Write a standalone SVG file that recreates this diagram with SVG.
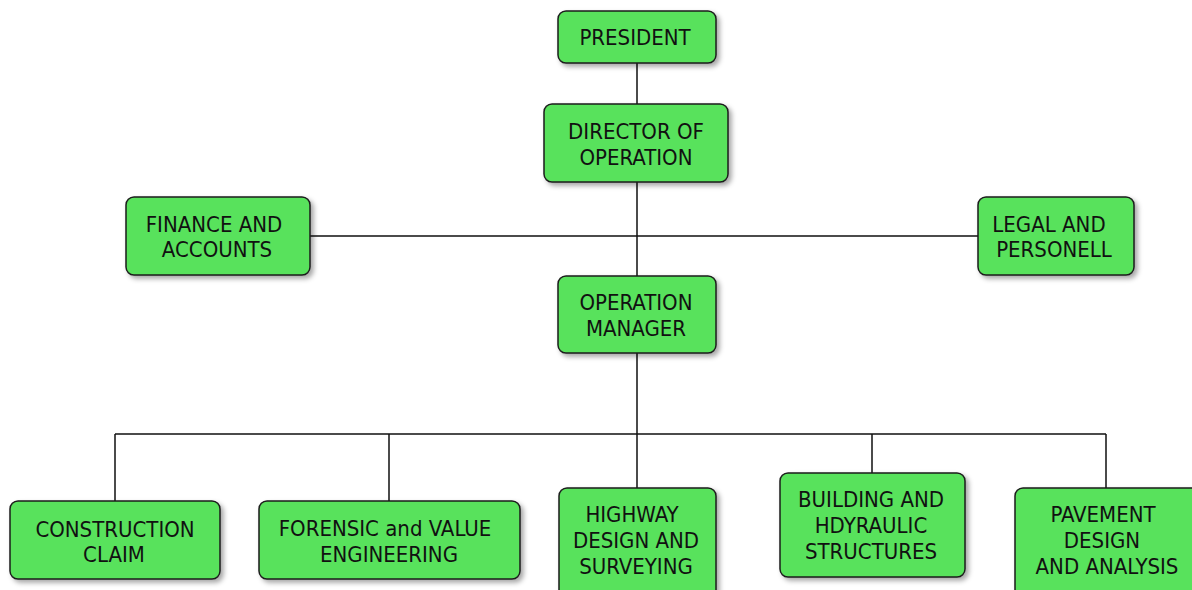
<svg xmlns="http://www.w3.org/2000/svg" width="1192" height="590" viewBox="0 0 1192 590">
<style>
.box{fill:#59e25b;stroke:#1e1e1e;stroke-width:1.5;filter:url(#sh)}
.t{font-family:"DejaVu Sans Condensed","DejaVu Sans",Verdana,sans-serif;font-size:22px;fill:#111;text-anchor:middle}
.ln{stroke:#111;stroke-width:1.5;fill:none}
</style>
<defs>
<filter id="sh" x="-10%" y="-10%" width="125%" height="130%">
<feDropShadow dx="3" dy="3" stdDeviation="2.5" flood-color="#000" flood-opacity="0.35"/>
</filter>
</defs>
<rect width="1192" height="590" fill="#fff"/>
<g id="connectors" class="ln">
<path d="M637 63V104M637 182V276M310 236H978M637 353V434M115 434H1106M115 434V501M389 434V501M637 434V488M872 434V473M1106 434V488"/>
</g>
<g id="president"><rect class="box" x="558" y="11" width="158" height="52" rx="8"/><text class="t" x="635" y="45">PRESIDENT</text></g>
<g id="director"><rect class="box" x="544" y="104" width="184" height="78" rx="8"/><text class="t" x="636" y="139">DIRECTOR OF</text><text class="t" x="636" y="165">OPERATION</text></g>
<g id="finance"><rect class="box" x="126" y="197" width="184" height="78" rx="8"/><text class="t" x="214" y="232">FINANCE AND</text><text class="t" x="217" y="257">ACCOUNTS</text></g>
<g id="legal"><rect class="box" x="978" y="197" width="156" height="78" rx="8"/><text class="t" x="1049" y="232">LEGAL AND</text><text class="t" x="1054" y="257">PERSONELL</text></g>
<g id="manager"><rect class="box" x="558" y="276" width="158" height="77" rx="8"/><text class="t" x="636" y="310">OPERATION</text><text class="t" x="636" y="336">MANAGER</text></g>
<g id="construction"><rect class="box" x="10" y="501" width="210" height="78" rx="8"/><text class="t" x="115" y="537">CONSTRUCTION</text><text class="t" x="114" y="562">CLAIM</text></g>
<g id="forensic"><rect class="box" x="259" y="501" width="261" height="78" rx="8"/><text class="t" x="385" y="536">FORENSIC and VALUE</text><text class="t" x="389" y="562">ENGINEERING</text></g>
<g id="highway"><rect class="box" x="559" y="488" width="157" height="112" rx="8"/><text class="t" x="632" y="522">HIGHWAY</text><text class="t" x="636" y="548">DESIGN AND</text><text class="t" x="636" y="574">SURVEYING</text></g>
<g id="building"><rect class="box" x="780" y="473" width="185" height="104" rx="8"/><text class="t" x="871" y="507">BUILDING AND</text><text class="t" x="871" y="533">HDYRAULIC</text><text class="t" x="871" y="559">STRUCTURES</text></g>
<g id="pavement"><rect class="box" x="1015" y="488" width="190" height="112" rx="8"/><text class="t" x="1103" y="522">PAVEMENT</text><text class="t" x="1102" y="548">DESIGN</text><text class="t" x="1107" y="574">AND ANALYSIS</text></g>
</svg>
